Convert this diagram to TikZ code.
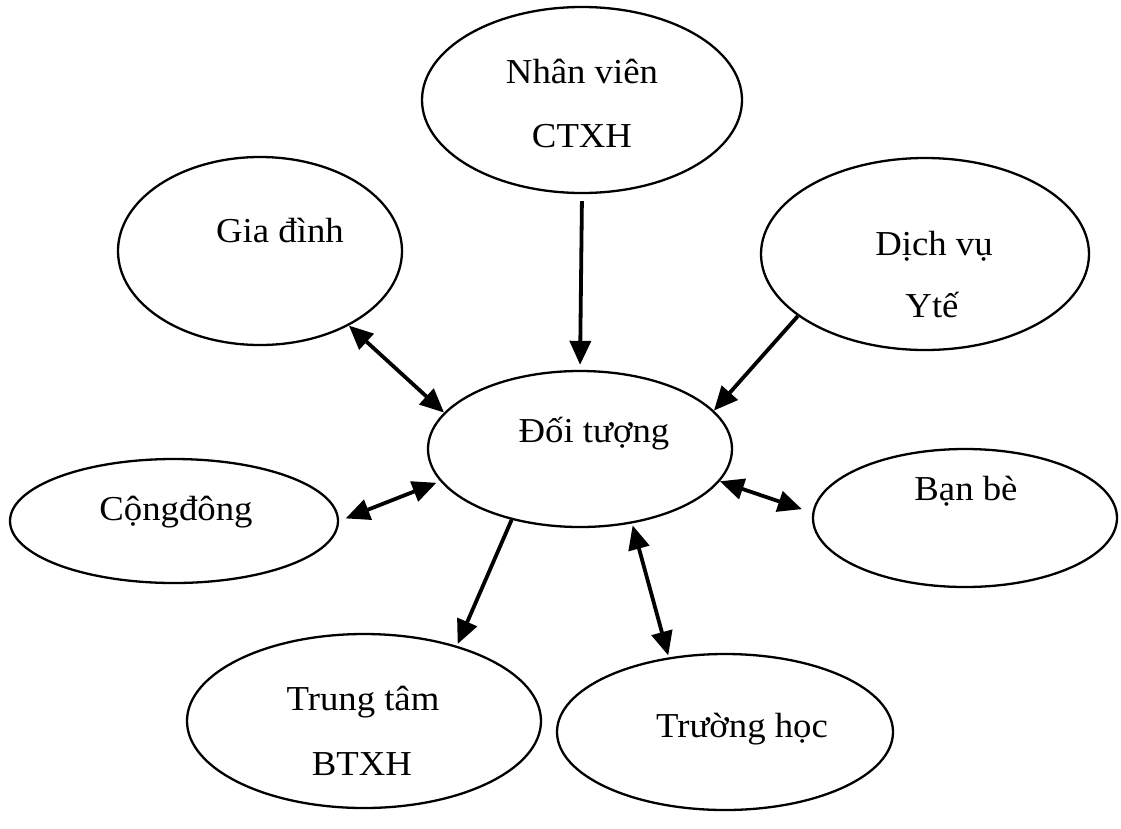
\documentclass[tikz,border=0pt]{standalone}
\usepackage{fontspec}
\setmainfont{Liberation Serif}[FakeStretch=1.05]
\usetikzlibrary{shapes.geometric,arrows.meta}

\begin{document}
\begin{tikzpicture}[x=1pt,y=-1pt,
  bubble/.style={draw,ellipse,line width=2.3pt,inner sep=0pt},
  txt/.style={anchor=base,inner sep=0pt,font=\fontsize{35}{42}\selectfont},
  tip/.tip={Triangle[length=24pt,width=21pt]},
  link/.style={line width=3.8pt,-tip},
  both/.style={line width=3.8pt,tip-tip}]

\fill[white] (0,0) rectangle (1121,828);
\useasboundingbox (0,0) rectangle (1121,828);

% ellipses
\node[bubble,minimum width=320pt,minimum height=186pt] (A) at (582,100) {};
\node[bubble,minimum width=284pt,minimum height=188pt] (B) at (260,251) {};
\node[bubble,minimum width=328pt,minimum height=192pt] (C) at (925,254) {};
\node[bubble,minimum width=304pt,minimum height=156pt] (D) at (580,449) {};
\node[bubble,minimum width=328pt,minimum height=124pt] (E) at (174,521) {};
\node[bubble,minimum width=304pt,minimum height=138pt] (F) at (965,518) {};
\node[bubble,minimum width=354pt,minimum height=174pt] (G) at (364,721) {};
\node[bubble,minimum width=336pt,minimum height=156pt] (H) at (725,732) {};

% texts
\node[txt] (A1) at (582,83) {Nhân viên};
\node[txt] (A2) at (582,147) {CTXH};
\node[txt] (B1) at (280,242) {Gia đình};
\node[txt] (C1) at (934,255) {Dịch vụ};
\node[txt] (C2) at (932,317) {Ytế};
\node[txt] (D1) at (594,442) {Đối tượng};
\node[txt] (E1) at (176,520) {Cộngđông};
\node[txt] (F1) at (966,500) {Bạn bè};
\node[txt] (G1) at (363,710) {Trung tâm};
\node[txt] (G2) at (362,775) {BTXH};
\node[txt] (H1) at (742,737) {Trường học};

% connectors
\draw[link,shorten <=7pt,shorten >=5pt] (A.south) -- (D.north);
\draw[link] (C.206) -- (D.16);
\draw[both] (B.-40) -- (D.165);
\draw[both,shorten <=7pt,shorten >=4pt] (E.0) -- (D.193);
\draw[both,shorten >=11pt] (D.-13) -- (F.178);
\draw[link,shorten >=2pt] (D.-134) -- (G.39);
\draw[both,shorten <=2pt,shorten >=2pt] (D.-55) -- (H.127);
\end{tikzpicture}
\end{document}
